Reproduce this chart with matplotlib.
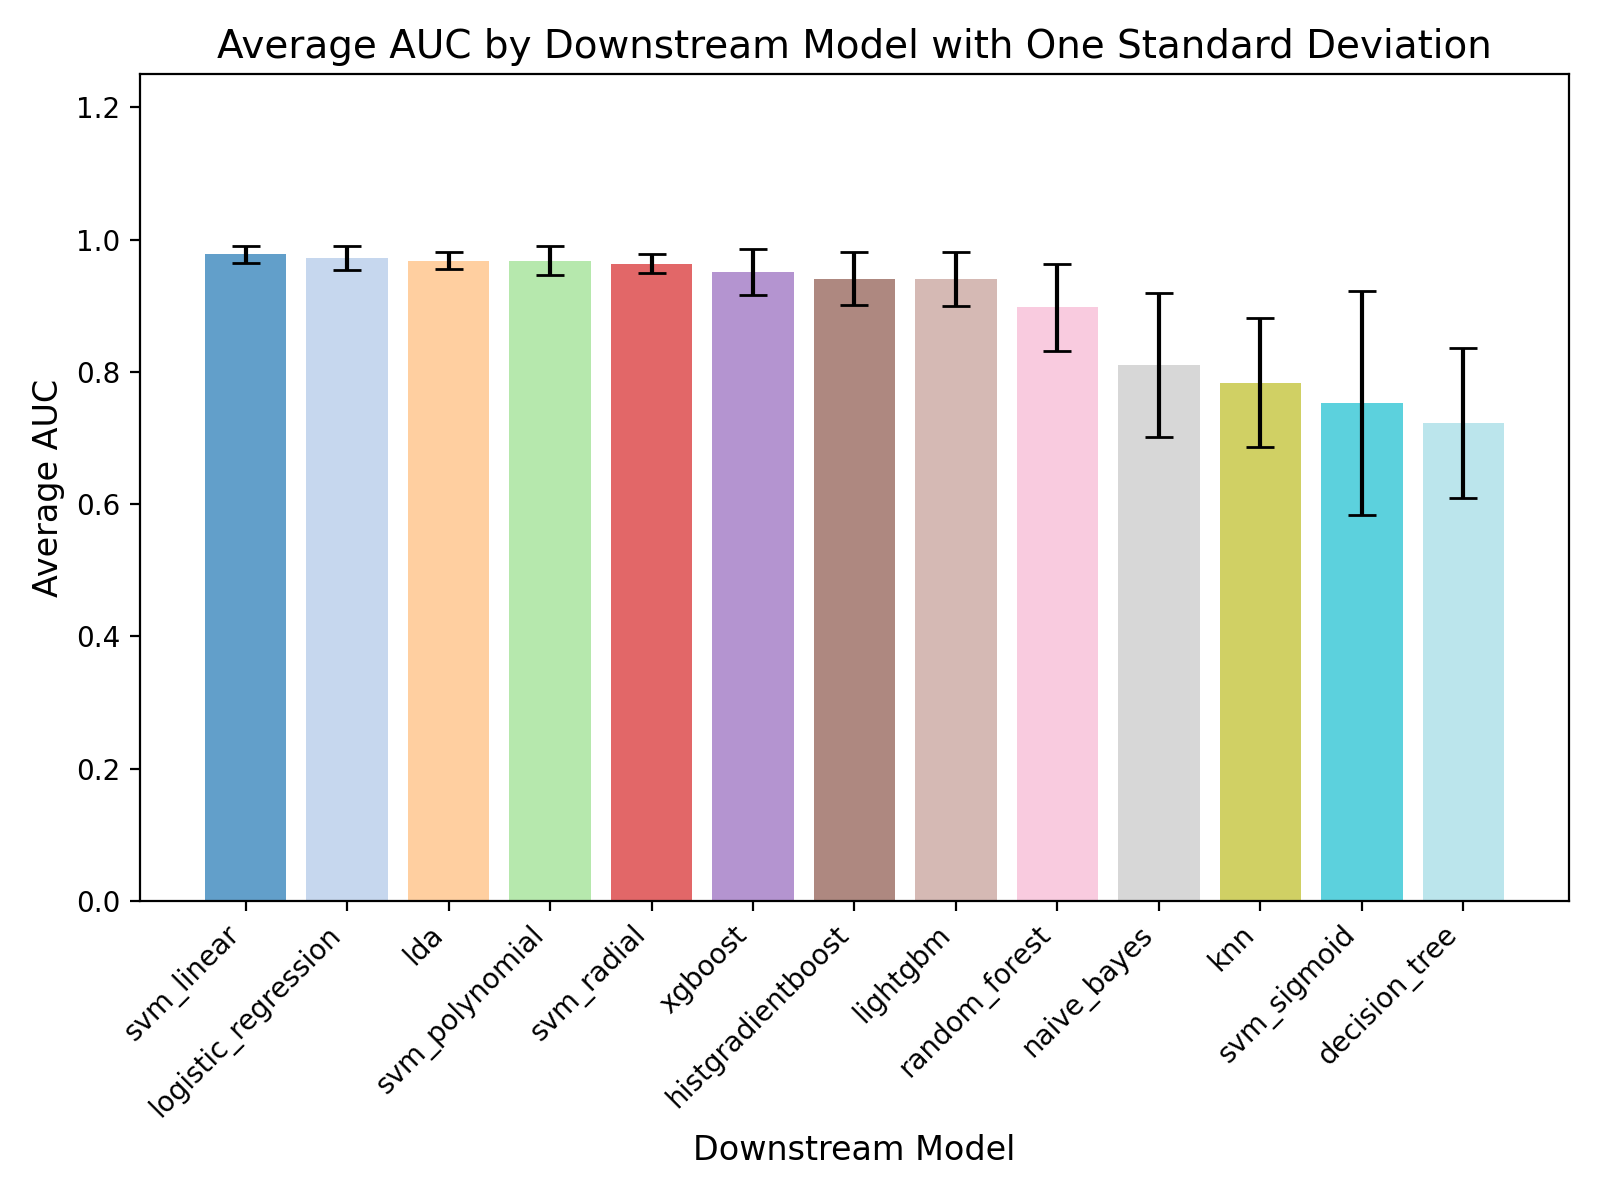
import numpy as np
import matplotlib.pyplot as plt

models = ['svm_linear', 'logistic_regression', 'lda', 'svm_polynomial', 'svm_radial',
          'xgboost', 'histgradientboost', 'lightgbm', 'random_forest', 'naive_bayes',
          'knn', 'svm_sigmoid', 'decision_tree']
mean_auc = [0.978, 0.972, 0.968, 0.968, 0.964, 0.951, 0.941, 0.940, 0.898, 0.810,
            0.784, 0.753, 0.723]
std_auc = [0.013, 0.018, 0.013, 0.022, 0.015, 0.035, 0.040, 0.041, 0.066, 0.109,
           0.097, 0.169, 0.113]

colors = plt.cm.tab20(np.linspace(0, 1, len(models)))

fig, ax = plt.subplots(figsize=(8, 6), dpi=200)
ax.bar(models, mean_auc, yerr=std_auc, capsize=5, color=colors, alpha=0.7)
ax.set_ylim(0, 1.25)
ax.set_title('Average AUC by Downstream Model with One Standard Deviation', fontsize=14)
ax.set_xlabel('Downstream Model', fontsize=12)
ax.set_ylabel('Average AUC', fontsize=12)
plt.xticks(rotation=45, ha='right')
fig.subplots_adjust(left=0.0875, right=0.9806, top=0.938, bottom=0.2492)
plt.savefig('out.png')
